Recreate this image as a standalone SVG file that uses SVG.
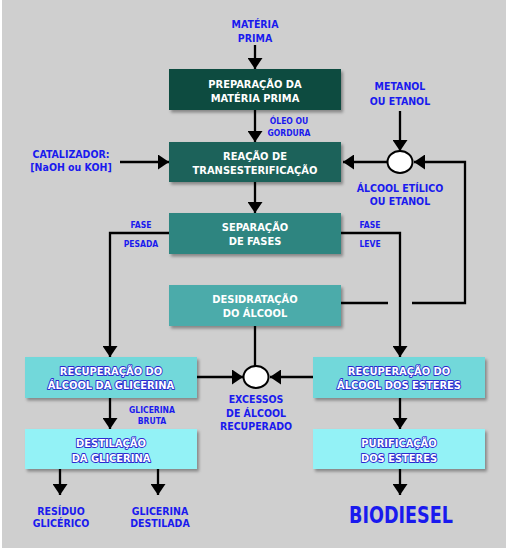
<svg xmlns="http://www.w3.org/2000/svg" width="508" height="556" viewBox="0 0 508 556">
<defs>
<marker id="ah" markerUnits="userSpaceOnUse" markerWidth="15" markerHeight="15" refX="11" refY="7.5" orient="auto">
<path d="M0,0 L11,7.5 L0,15 z" fill="#000"/>
</marker>
<filter id="sh" x="-10%" y="-20%" width="125%" height="150%">
<feDropShadow dx="2" dy="2.5" stdDeviation="1.8" flood-color="#000" flood-opacity="0.35"/>
</filter>
</defs>
<style>
text{font-family:"DejaVu Sans Condensed","DejaVu Sans",sans-serif;font-weight:bold;text-anchor:middle}
.bt{fill:#fff;font-size:11px}
.lt{fill:#fff;stroke:#2a2ad0;stroke-width:1.8px;paint-order:stroke;font-size:11px;stroke-linejoin:round}
.lb{fill:#1a1aee;font-size:10.5px}
.sm{fill:#1a1aee;font-size:8.5px}
.big{fill:#1a1aee;font-size:23px}
.ln{fill:none;stroke:#000;stroke-width:2.3}
.ar{marker-end:url(#ah)}
.bx{filter:url(#sh)}
.cr{fill:#fff;stroke:#000;stroke-width:2}
</style>
<rect x="2" y="0" width="504" height="548" fill="#cfcfcf"/>

<g id="connectors">
<line class="ln ar" x1="255" y1="45" x2="255" y2="69"/>
<line class="ln ar" x1="255" y1="110" x2="255" y2="142"/>
<line class="ln ar" x1="400" y1="111" x2="400" y2="151"/>
<line class="ln ar" x1="387" y1="162" x2="343" y2="162"/>
<line class="ln ar" x1="120" y1="162" x2="169" y2="162"/>
<line class="ln" x1="341" y1="303" x2="388" y2="303"/>
<polyline class="ln ar" points="412,303 465,303 465,162 414,162"/>
<line class="ln ar" x1="255" y1="182" x2="255" y2="213"/>
<polyline class="ln ar" points="169,233 110,233 110,357"/>
<polyline class="ln ar" points="341,233 400,233 400,357"/>
<line class="ln" x1="255" y1="326" x2="255" y2="366"/>
<line class="ln ar" x1="197" y1="377" x2="243" y2="377"/>
<line class="ln ar" x1="313" y1="377" x2="270" y2="377"/>
<line class="ln ar" x1="110" y1="398" x2="110" y2="429"/>
<line class="ln ar" x1="400" y1="398" x2="400" y2="429"/>
<line class="ln ar" x1="60" y1="469" x2="60" y2="495"/>
<line class="ln ar" x1="158" y1="469" x2="158" y2="495"/>
<line class="ln ar" x1="400" y1="469" x2="400" y2="495"/>
</g>

<g id="materia-prima"><text class="lb" x="255" y="28">MATÉRIA</text><text class="lb" x="255" y="42">PRIMA</text></g>
<g id="oleo"><text class="sm" x="289" y="124">ÓLEO OU</text><text class="sm" x="289" y="136">GORDURA</text></g>
<g id="metanol"><text class="lb" x="400" y="90">METANOL</text><text class="lb" x="400" y="105">OU ETANOL</text></g>
<g id="catalizador"><text class="lb" x="71" y="158">CATALIZADOR:</text><text class="lb" x="71" y="171">[NaOH ou KOH]</text></g>
<g id="alcool-etilico"><text class="lb" x="400" y="192">ÁLCOOL ETÍLICO</text><text class="lb" x="400" y="205">OU ETANOL</text></g>
<g id="fase-pesada"><text class="sm" x="141" y="228">FASE</text><text class="sm" x="141" y="247">PESADA</text></g>
<g id="fase-leve"><text class="sm" x="370" y="228">FASE</text><text class="sm" x="370" y="247">LEVE</text></g>
<g id="glicerina-bruta"><text class="sm" x="152" y="413">GLICERINA</text><text class="sm" x="152" y="424">BRUTA</text></g>
<g id="excessos"><text class="lb" x="256" y="403">EXCESSOS</text><text class="lb" x="256" y="417">DE ÁLCOOL</text><text class="lb" x="256" y="430">RECUPERADO</text></g>
<g id="residuo"><text class="lb" x="61" y="515">RESÍDUO</text><text class="lb" x="61" y="527">GLICÉRICO</text></g>
<g id="glicerina-destilada"><text class="lb" x="160" y="515">GLICERINA</text><text class="lb" x="160" y="527">DESTILADA</text></g>
<g id="biodiesel"><text class="big" transform="translate(401,523) scale(0.85,1)">BIODIESEL</text></g>

<g id="preparacao"><rect class="bx" x="169" y="69" width="172" height="41" fill="#0e4b40"/><text class="bt" x="255" y="88">PREPARAÇÃO DA</text><text class="bt" x="255" y="102">MATÉRIA PRIMA</text></g>
<g id="reacao"><rect class="bx" x="169" y="142" width="172" height="40" fill="#1e625a"/><text class="bt" x="255" y="160">REAÇÃO DE</text><text class="bt" x="255" y="174">TRANSESTERIFICAÇÃO</text></g>
<g id="separacao"><rect class="bx" x="169" y="213" width="172" height="41" fill="#2f8580"/><text class="bt" x="255" y="231">SEPARAÇÃO</text><text class="bt" x="255" y="245">DE FASES</text></g>
<g id="desidratacao"><rect class="bx" x="169" y="285" width="172" height="41" fill="#4cabaa"/><text class="bt" x="255" y="303">DESIDRATAÇÃO</text><text class="bt" x="255" y="317">DO ÁLCOOL</text></g>
<g id="recup-glicerina"><rect class="bx" x="25" y="357" width="172" height="41" fill="#72d8da"/><text class="lt" x="111" y="375">RECUPERAÇÃO DO</text><text class="lt" x="111" y="389">ÁLCOOL DA GLICERINA</text></g>
<g id="recup-esteres"><rect class="bx" x="313" y="357" width="172" height="41" fill="#72d8da"/><text class="lt" x="399" y="375">RECUPERAÇÃO DO</text><text class="lt" x="399" y="389">ÁLCOOL DOS ESTERES</text></g>
<g id="destilacao"><rect class="bx" x="25" y="429" width="172" height="40" fill="#93f2f6"/><text class="lt" x="111" y="447">DESTILAÇÃO</text><text class="lt" x="111" y="462">DA GLICERINA</text></g>
<g id="purificacao"><rect class="bx" x="313" y="429" width="172" height="40" fill="#93f2f6"/><text class="lt" x="399" y="447">PURIFICAÇÃO</text><text class="lt" x="399" y="462">DOS ESTERES</text></g>
<g id="mix1"><ellipse class="cr" cx="400" cy="162" rx="12.5" ry="11"/></g>
<g id="mix2"><ellipse class="cr" cx="256" cy="377" rx="12.5" ry="11"/></g>
</svg>
